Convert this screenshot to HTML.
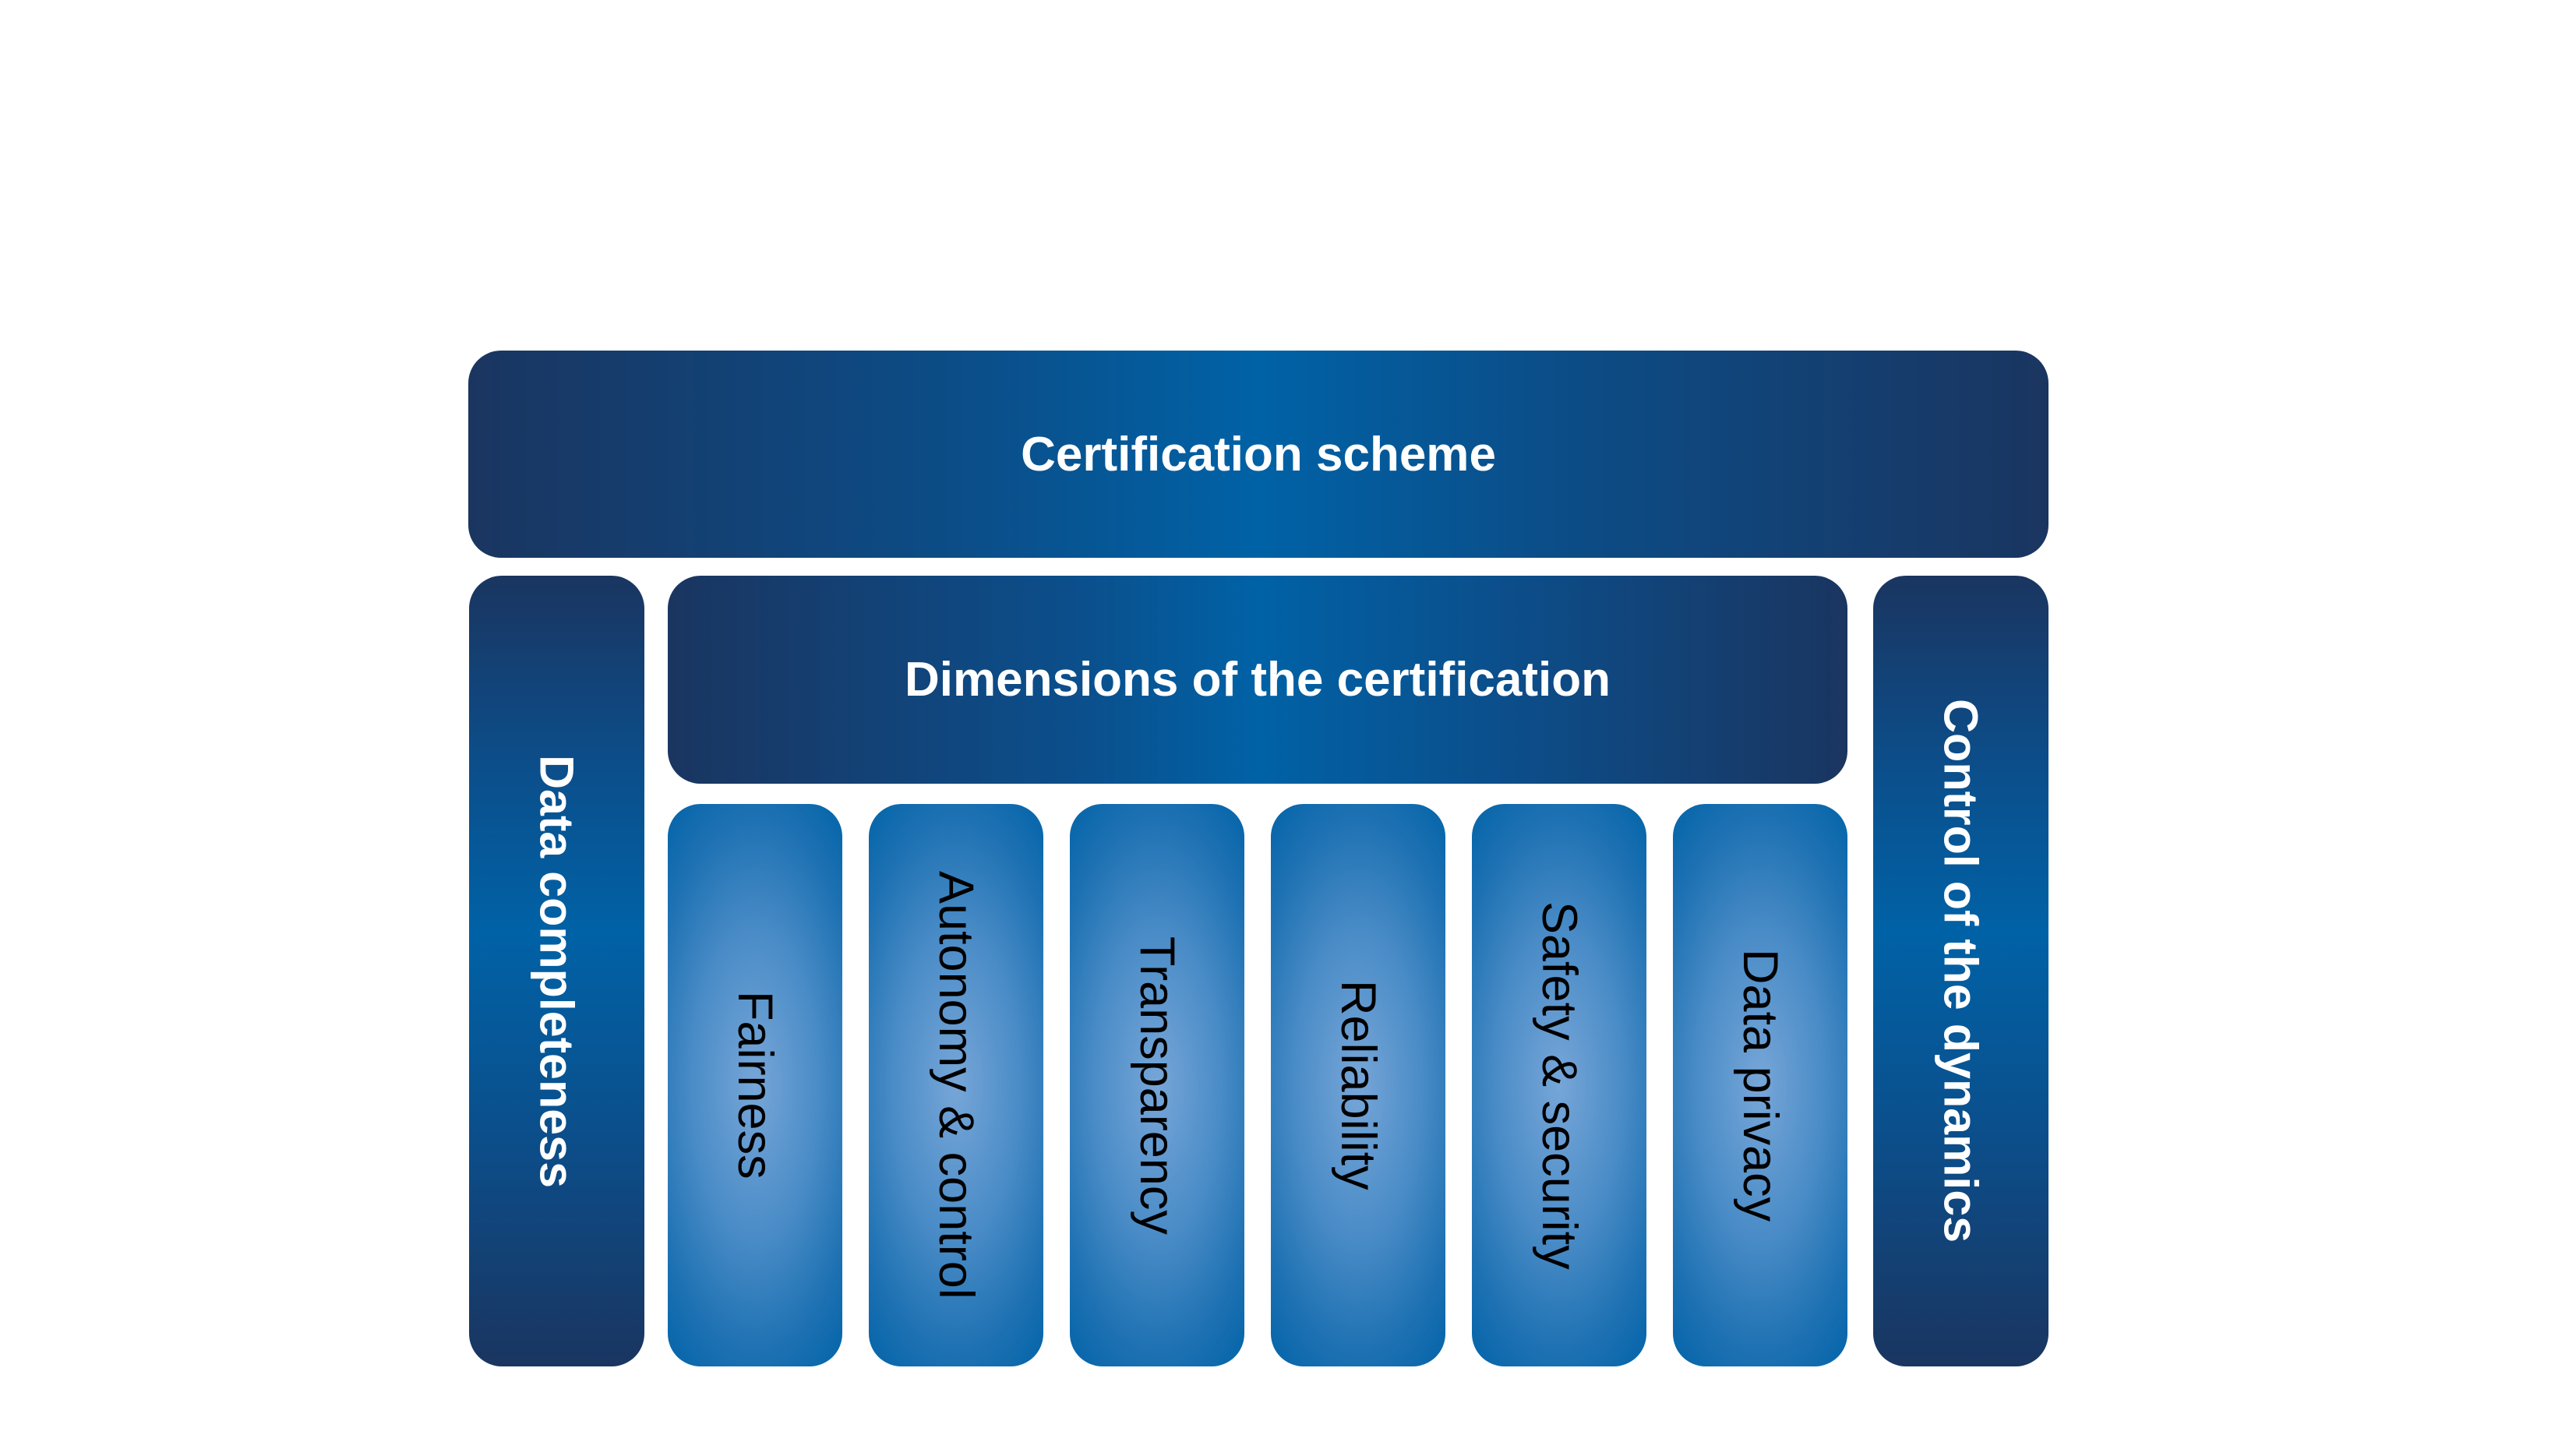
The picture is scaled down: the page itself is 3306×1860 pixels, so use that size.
<!DOCTYPE html>
<html><head><meta charset="utf-8"><style>
html,body{margin:0;padding:0;background:#fff;}
body{width:3306px;height:1860px;position:relative;overflow:hidden;font-family:"Liberation Sans",sans-serif;}
.b{position:absolute;border-radius:42px;display:flex;align-items:center;justify-content:center;box-sizing:border-box;}
.top{left:601px;top:450px;width:2028px;height:266px;background:linear-gradient(90deg,#1a3560 0%,#0c4c86 30%,#0062a6 50%,#0c4c86 70%,#1a3560 100%);}
.dim{left:857px;top:739px;width:1514px;height:267px;background:linear-gradient(90deg,#1a3560 0%,#0b4f8c 35%,#0062a6 50%,#0b4f8c 70%,#1a3560 100%);}
.side{top:739px;width:225px;height:1015px;background:linear-gradient(180deg,#1a3560 0%,#0b4f8c 25%,#0062a6 45%,#0b4f8c 70%,#1a3560 100%);}
.pil{top:1032px;width:224px;height:722px;background:radial-gradient(ellipse 80% 60% at 50% 50%,#77a6d8 0%,#4a8cc7 45%,#1f72b3 78%,#0766aa 100%);}
.h{color:#fff;font-weight:bold;font-size:62px;white-space:nowrap;}
.v{writing-mode:vertical-rl;white-space:nowrap;}
.sv{color:#fff;font-weight:bold;font-size:61px;}
.pv{color:#000;font-size:63px;}
</style></head><body>
<div class="b top"><span class="h">Certification scheme</span></div>
<div class="b dim"><span class="h">Dimensions of the certification</span></div>
<div class="b side" style="left:602px"><span class="v sv">Data completeness</span></div>
<div class="b side" style="left:2404px"><span class="v sv">Control of the dynamics</span></div>
<div class="b pil" style="left:857px"><span class="v pv">Fairness</span></div>
<div class="b pil" style="left:1115px"><span class="v pv">Autonomy &amp; control</span></div>
<div class="b pil" style="left:1373px"><span class="v pv">Transparency</span></div>
<div class="b pil" style="left:1631px"><span class="v pv">Reliability</span></div>
<div class="b pil" style="left:1889px"><span class="v pv">Safety &amp; security</span></div>
<div class="b pil" style="left:2147px"><span class="v pv">Data privacy</span></div>
</body></html>
